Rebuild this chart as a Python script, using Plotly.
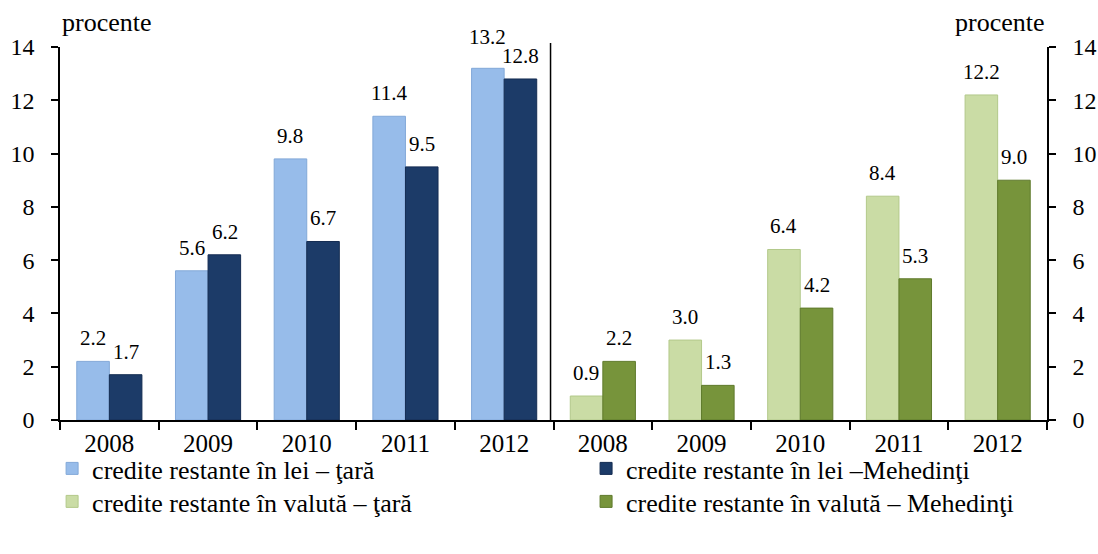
import plotly.graph_objects as go

years = ["2008", "2009", "2010", "2011", "2012"]
lei_tara = [2.2, 5.6, 9.8, 11.4, 13.2]
lei_mehedinti = [1.7, 6.2, 6.7, 9.5, 12.8]
valuta_tara = [0.9, 3.0, 6.4, 8.4, 12.2]
valuta_mehedinti = [2.2, 1.3, 4.2, 5.3, 9.0]

names = [
    "credite restante în lei – ţară",
    "credite restante în lei –Mehedinţi",
    "credite restante în valută – ţară",
    "credite restante în valută – Mehedinţi",
]
colors = ["#97BCEA", "#1C3B68", "#CADCA5", "#77943B"]
line_colors = ["#82A8D8", "#142C52", "#B3C98A", "#5F7A2C"]

FONT = "Liberation Serif"

fig = go.Figure()
series = [
    (lei_tara, "x", "y", "legend"),
    (lei_mehedinti, "x", "y", "legend2"),
    (valuta_tara, "x2", "y2", "legend3"),
    (valuta_mehedinti, "x2", "y2", "legend4"),
]
pairs = [(lei_tara, lei_mehedinti), (lei_tara, lei_mehedinti),
         (valuta_tara, valuta_mehedinti), (valuta_tara, valuta_mehedinti)]
for i, (vals, xa, ya, lg) in enumerate(series):
    fig.add_trace(go.Bar(
        x=years, y=vals, name=names[i], xaxis=xa, yaxis=ya, legend=lg,
        showlegend=True,
        marker=dict(color=colors[i], line=dict(color=line_colors[i], width=1)),
        offsetgroup=str(i % 2),
    ))
    shift = -16.5 if i % 2 == 0 else 16.5
    other = pairs[i][1] if i % 2 == 0 else pairs[i][0]
    for k, v in enumerate(vals):
        # raise the higher label of a pair when both labels would collide
        extra = 8 if (v > other[k] and v - other[k] < 0.45) else 0
        fig.add_annotation(
            x=k, y=v, xref=xa, yref=ya, text=f"{v:.1f}", showarrow=False,
            xshift=shift, yshift=23 + extra, yanchor="middle", xanchor="center",
            font=dict(family=FONT, size=21, color="black"),
        )

axis_common = dict(showline=True, linecolor="black", linewidth=1.5, ticks="outside",
                   tickcolor="black", tickwidth=1.5, showgrid=False, zeroline=False,
                   automargin=False,
                   tickfont=dict(family=FONT, size=25, color="black"))

yfont = dict(family=FONT, size=24, color="black")
legfont = dict(family=FONT, size=26, color="black")

def leg(x, y):
    return dict(x=x, y=y, xanchor="left", yanchor="top", orientation="v",
                font=legfont, bgcolor="rgba(0,0,0,0)")

fig.update_layout(
    width=1098, height=554,
    margin=dict(l=60, r=51, t=47, b=134, autoexpand=False),
    paper_bgcolor="white", plot_bgcolor="white",
    showlegend=True,
    barmode="group", bargap=0.34, bargroupgap=0,
    font=dict(family=FONT, color="black"),
    xaxis=dict(domain=[0, 0.5], anchor="y", type="category", tickson="boundaries",
               ticklen=8, tickangle=0, **axis_common),
    xaxis2=dict(domain=[0.5, 1], anchor="y2", type="category", tickson="boundaries",
                ticklen=8, tickangle=0, **axis_common),
    yaxis=dict(range=[0, 14], dtick=2, anchor="x", side="left", ticklen=7,
               ticklabelstandoff=12, **{**axis_common, "tickfont": yfont}),
    yaxis2=dict(range=[0, 14], dtick=2, anchor="x2", side="right", ticklen=7,
                ticklabelstandoff=12, **{**axis_common, "tickfont": yfont}),
    legend=leg(-0.008, -0.067),
    legend2=leg(0.533, -0.067),
    legend3=leg(-0.008, -0.1555),
    legend4=leg(0.533, -0.1555),
)

fig.add_shape(type="line", xref="paper", yref="paper", x0=0.497, x1=0.497, y0=0, y1=1.011,
              line=dict(color="black", width=1.5))

fig.add_annotation(x=0.0476, y=1.067, xref="paper", yref="paper", text="procente",
                   showarrow=False, xanchor="center", yanchor="middle", font=legfont)
fig.add_annotation(x=0.952, y=1.067, xref="paper", yref="paper", text="procente",
                   showarrow=False, xanchor="center", yanchor="middle", font=legfont)

# remove the default 8px page margin so the 1098x554 figure fills the window exactly
fig.write_html("out.html", config={"displayModeBar": False},
               post_script="document.body.style.margin='0';")
